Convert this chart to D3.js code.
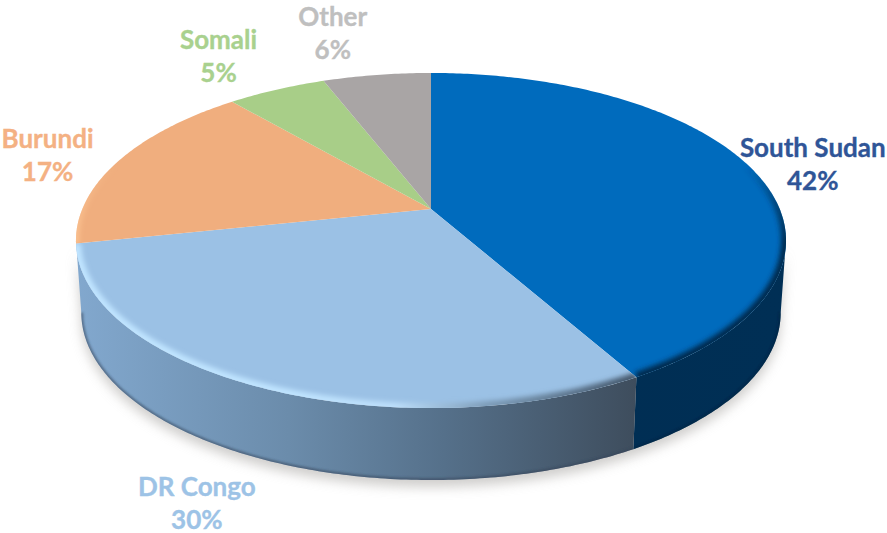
<!DOCTYPE html>
<html>
<head>
<meta charset="utf-8">
<script src="https://cdn.jsdelivr.net/npm/d3@7"></script>
<style>
    html, body { margin: 0; padding: 0; background: #fff; }
    text { font-family: Lato, "Open Sans", sans-serif; font-weight: 700; font-size: 26px; text-anchor: middle; stroke-width: 0.35px; }
</style>
</head>
<body>
<div id="chart"></div>
<script>
// Chart data
var categories = ["South Sudan", "DR Congo", "Burundi", "Somali", "Other"];
var shares = [41.8, 29.9, 17, 5.4, 5.9];
var topColors = ["#006bbd", "#9bc1e5", "#f0ae7e", "#a8ce88", "#a9a5a5"];
var labelColors = ["#2f5597", "#9dc3e6", "#f4b183", "#a9d18e", "#bfbfbf"];

// label offset from the rim point at the middle of each slice
var labelOffsets = [[60, -13], [-61, 109], [-72, -12], [-58, -41], [-44, -49]];

var svgWidth = 887;
var svgHeight = 533;

// projection of the pie disc
var cx = 431, cy = 209;
var rx = 348.7, ry = 161.6, tilt = 0.188;
var depth = 72, bottomScale = 0.985;

function project(angle) {
    var u = Math.sin(angle), v = -Math.cos(angle);
    var d = 1 - tilt * v;
    return [cx + rx * u / d, cy + ry * v / d];
}
function projectBottom(angle) {
    var p = project(angle);
    return [cx + (p[0] - cx) * bottomScale, p[1] + depth];
}
function arcPoints(a0, a1, fn) {
    var n = Math.max(2, Math.ceil(Math.abs(a1 - a0) * 80));
    return d3.range(n + 1).map(i => fn(a0 + (a1 - a0) * i / n));
}

var line = d3.line();

var svg = d3.select("#chart")
    .append("svg")
    .attr("width", svgWidth)
    .attr("height", svgHeight)
    .style("display", "block");

var defs = svg.append("defs");

function blur(id, dev) {
    defs.append("filter")
        .attr("id", id)
        .attr("filterUnits", "userSpaceOnUse")
        .attr("x", 0).attr("y", 0)
        .attr("width", svgWidth).attr("height", svgHeight)
        .append("feGaussianBlur")
        .attr("stdDeviation", dev);
}
blur("shadowBlur", 6);
blur("rimBlur", 2.5);
blur("edgeBlur", 1);

function gradient(id, stops, vertical) {
    var g = defs.append("linearGradient")
        .attr("id", id)
        .attr("gradientUnits", "userSpaceOnUse")
        .attr("x1", vertical ? 0 : 76).attr("x2", vertical ? 0 : 785)
        .attr("y1", vertical ? 165 : 0).attr("y2", vertical ? 245 : 0);
    stops.forEach(function(s) {
        g.append("stop")
            .attr("offset", s[0])
            .attr("stop-color", s[1])
            .attr("stop-opacity", s[2] === undefined ? 1 : s[2]);
    });
}
gradient("sideCongo", [[0, "#82a8ce"], [0.3, "#6b8cab"], [0.52, "#55708a"], [0.79, "#3e4d5d"], [1, "#3e4d5d"]]);
gradient("sideSudan", [[0, "#002c50"], [1, "#002f55"]]);
gradient("rimCongo", [[0, "#bfe4ff"], [0.3, "#bfe4ff"], [0.45, "#bcdefa"], [0.58, "#7d9cb8"], [0.79, "#43566a"], [1, "#43566a"]]);
gradient("rimSudan", [[0, "#002c50", 0], [0.5, "#002c50", 0.6], [1, "#002c50", 1]], true);
gradient("rimBurundi", [[0, "#ffc896", 0], [1, "#ffc896", 0.9]], true);

var slices = d3.pie().sort(null)(shares);
var rightEdge = Math.acos(-tilt);
var leftEdge = 2 * Math.PI - rightEdge;
var frontOuter = arcPoints(rightEdge, leftEdge, projectBottom);
var frontInner = arcPoints(rightEdge, leftEdge, project);

// soft shadow under the pie
svg.append("path")
    .attr("d", line(frontOuter.map(p => [p[0], p[1] + 7]).concat(frontInner.slice().reverse())) + "Z")
    .attr("fill", "#b5b3b0")
    .attr("opacity", 0.65)
    .attr("filter", "url(#shadowBlur)");

// side wall, only the two front slices show one
var sideFills = ["url(#sideSudan)", "url(#sideCongo)"];
sideFills.forEach(function(fill, i) {
    var a0 = Math.max(slices[i].startAngle, rightEdge);
    var a1 = i == 1 ? leftEdge : slices[i].endAngle;
    var outline = arcPoints(a0, a1, project).concat(arcPoints(a1, a0, projectBottom));
    var clipId = "side" + i;
    defs.append("clipPath").attr("id", clipId)
        .append("path").attr("d", line(outline) + "Z");
    svg.append("path")
        .attr("d", line(outline) + "Z")
        .attr("fill", fill);
    // darker lower edge of the wall
    svg.append("g")
        .attr("clip-path", `url(#${clipId})`)
        .append("path")
        .attr("d", line(arcPoints(a0, a1, projectBottom)))
        .attr("fill", "none")
        .attr("stroke", i == 0 ? "#00223f" : "#33465a")
        .attr("stroke-opacity", 0.55)
        .attr("stroke-width", 4)
        .attr("filter", "url(#edgeBlur)");
});

// top face
svg.selectAll("path.slice")
    .data(slices)
    .enter()
    .append("path")
    .attr("class", "slice")
    .attr("d", d => line([[cx, cy]].concat(arcPoints(d.startAngle, d.endAngle, project))) + "Z")
    .attr("fill", (d, i) => topColors[i]);

// bevel along the rim of the top face
var rimStrokes = ["url(#rimSudan)", "url(#rimCongo)", "url(#rimBurundi)"];
rimStrokes.forEach(function(stroke, i) {
    var d = slices[i];
    var clipId = "top" + i;
    defs.append("clipPath").attr("id", clipId)
        .append("path")
        .attr("d", line([[cx, cy]].concat(arcPoints(d.startAngle, d.endAngle, project))) + "Z");
    svg.append("g")
        .attr("clip-path", `url(#${clipId})`)
        .append("path")
        .attr("d", line(arcPoints(i == 0 ? Math.PI / 3 : d.startAngle, d.endAngle, project)))
        .attr("fill", "none")
        .attr("stroke", stroke)
        .attr("stroke-width", i == 2 ? 6 : 10)
        .attr("filter", "url(#rimBlur)");
});

// labels
slices.forEach(function(d, i) {
    var rim = project((d.startAngle + d.endAngle) / 2);
    var x = rim[0] + labelOffsets[i][0];
    var y = rim[1] + labelOffsets[i][1];
    var label = svg.append("text")
        .attr("x", x)
        .attr("y", y)
        .attr("fill", labelColors[i])
        .attr("stroke", labelColors[i]);
    label.append("tspan").attr("x", x).text(categories[i]);
    label.append("tspan").attr("x", x).attr("dy", 33).text(Math.round(shares[i]) + "%");
});
</script>
</body>
</html>
